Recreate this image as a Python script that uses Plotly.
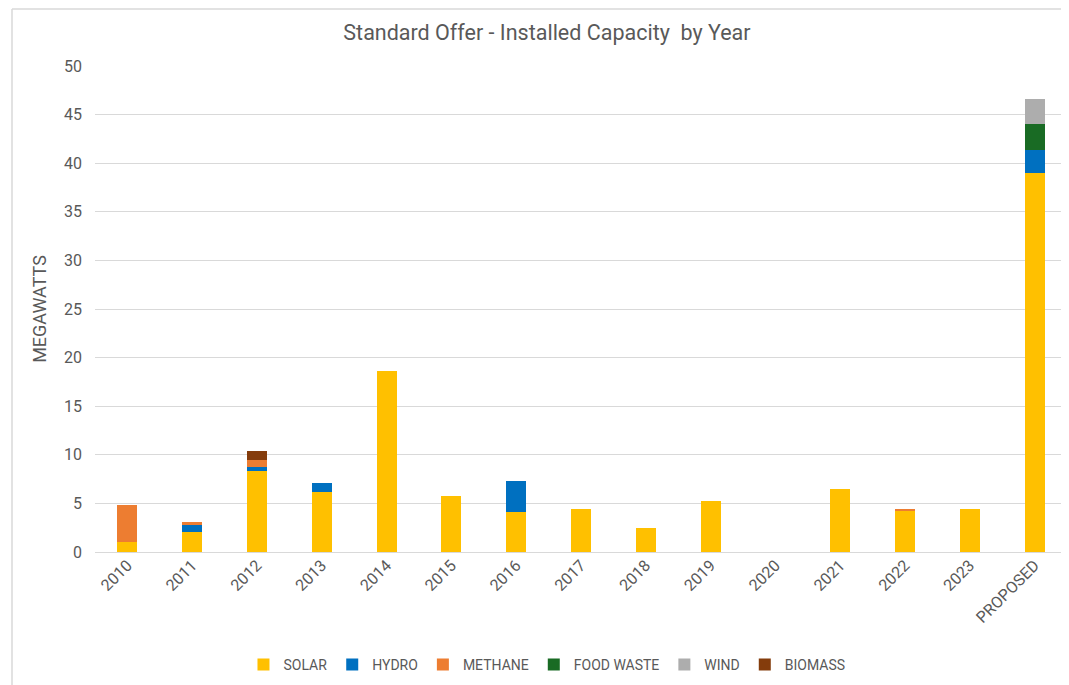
import plotly.graph_objects as go

categories = ["2010", "2011", "2012", "2013", "2014", "2015", "2016", "2017",
              "2018", "2019", "2020", "2021", "2022", "2023", "PROPOSED"]
solar = [1.0, 2.1, 8.3, 6.2, 18.6, 5.8, 4.15, 4.4, 2.45, 5.25, 0, 6.5, 4.3, 4.4, 39.0]
hydro = [0, 0.7, 0.4, 0.85, 0, 0, 3.15, 0, 0, 0, 0, 0, 0, 0, 2.35]
methane = [3.8, 0.25, 0.8, 0, 0, 0, 0, 0, 0, 0, 0, 0, 0.05, 0, 0]
food_waste = [0, 0, 0, 0, 0, 0, 0, 0, 0, 0, 0, 0, 0, 0, 2.7]
wind = [0, 0, 0, 0, 0, 0, 0, 0, 0, 0, 0, 0, 0, 0, 2.55]
biomass = [0, 0, 0.9, 0, 0, 0, 0, 0, 0, 0, 0, 0, 0, 0, 0]

series = [
    ("SOLAR", solar, "#FFC000"),
    ("HYDRO", hydro, "#0070C0"),
    ("METHANE", methane, "#ED7D31"),
    ("FOOD WASTE", food_waste, "#196B24"),
    ("WIND", wind, "#ADADAD"),
    ("BIOMASS", biomass, "#843C0C"),
]

FONT = "Roboto"
GRAY = "#595959"

fig = go.Figure()
for name, vals, color in series:
    fig.add_trace(go.Bar(
        x=categories, y=vals, name=name,
        marker=dict(color=color, line=dict(width=0)),
    ))

W, H = 1061, 677
frame_x0 = (12 - 95) / 972
frame_y1 = (552 - 9) / 486
fig.update_layout(
    barmode="stack",
    bargap=0.69,
    width=W, height=H,
    margin=dict(l=87, r=2, t=58, b=133),
    paper_bgcolor="white", plot_bgcolor="white",
    font=dict(family=FONT, color=GRAY, size=15),
    title=dict(text="Standard Offer - Installed Capacity  by Year",
               font=dict(family=FONT, size=21.5, color=GRAY),
               xref="paper", x=0.465, xanchor="center",
               yref="container", y=1 - 24 / H, yanchor="middle"),
    legend=dict(orientation="h", xref="paper", x=0.465, xanchor="center",
                yref="paper", y=-0.2325, yanchor="middle",
                font=dict(family=FONT, size=14, color=GRAY),
                itemwidth=30, traceorder="normal"),
    xaxis=dict(tickangle=-45, showgrid=False, showline=False, ticks="",
               tickfont=dict(family=FONT, size=16, color=GRAY)),
    yaxis=dict(range=[0, 50], dtick=5, showgrid=True, gridcolor="#D9D9D9",
               gridwidth=1, zeroline=True, zerolinecolor="#D9D9D9", zerolinewidth=1,
               ticks="", ticklabelstandoff=12,
               tickfont=dict(family=FONT, size=16, color=GRAY),
               title=dict(text="MEGAWATTS", font=dict(family=FONT, size=18, color=GRAY),
                          standoff=12)),
    shapes=[
        dict(type="line", xref="paper", yref="paper",
             x0=frame_x0, x1=1.1, y0=frame_y1, y1=frame_y1,
             line=dict(color="#D9D9D9", width=1.5), layer="below"),
        dict(type="line", xref="paper", yref="paper",
             x0=frame_x0, x1=frame_x0, y0=-0.5, y1=frame_y1,
             line=dict(color="#D9D9D9", width=1.5), layer="below"),
    ],
)

fig.write_html("out.html")
